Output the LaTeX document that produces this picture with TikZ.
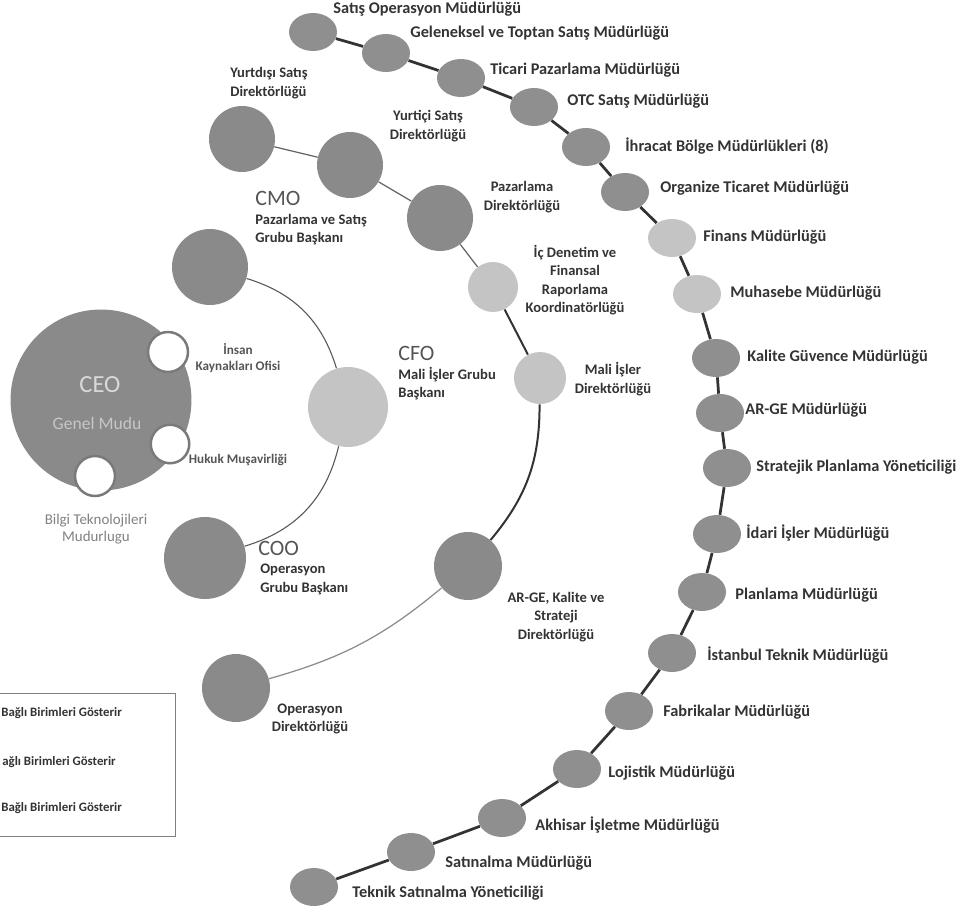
\documentclass[tikz,border=0pt]{standalone}
\usepackage{fontspec}
\setmainfont{Carlito}
\usetikzlibrary{shapes.geometric}
\definecolor{unitgray}{HTML}{8F8F8F}
\definecolor{headgray}{HTML}{8A8A8A}
\definecolor{palegray}{HTML}{C4C4C4}
\definecolor{ringgray}{HTML}{7A7A7A}
\definecolor{labeltext}{HTML}{333333}
\definecolor{softtext}{HTML}{555555}
\newcommand{\orgunitfont}{\fontsize{9.3}{11}\selectfont\bfseries}
\newcommand{\orgdirfont}{\fontsize{8.3}{10.4}\selectfont\bfseries}
\newcommand{\orgheadfont}{\fontsize{12.5}{14}\selectfont}
\newcommand{\orgkeyfont}{\fontsize{7.3}{9}\selectfont\bfseries}
\begin{document}
\begin{tikzpicture}[x=0.02cm, y=-0.02cm,
	unit/.style={ellipse, fill=unitgray, inner sep=0pt, minimum width=0.96cm, minimum height=0.76cm},
	paleunit/.style={unit, fill=palegray},
	dirball/.style={circle, fill=headgray, inner sep=0pt, minimum size=#1},
	paleball/.style={circle, fill=palegray, inner sep=0pt, minimum size=#1},
	hole/.style={circle, fill=white, draw=ringgray, line width=0.05cm, inner sep=0pt, minimum size=#1},
	unitlabel/.style={font=\orgunitfont, text=labeltext, inner sep=0pt, anchor=west},
	dirlabel/.style={font=\orgdirfont, text=labeltext, inner sep=0pt, align=center},
	headlabel/.style={font=\orgheadfont, text=softtext, inner sep=0pt, anchor=west},
	keylabel/.style={font=\orgkeyfont, text=labeltext, inner sep=0pt, anchor=west},
	chainline/.style={draw=black!80, line width=0.055cm},
	thinline/.style={draw=black!60, line width=0.025cm},
	arcline/.style={draw=black!65, line width=0.022cm}]
	\useasboundingbox (0,0) rectangle (962,912);
	\clip (0,0) rectangle (962,912);
	\node[circle, fill=headgray, inner sep=0pt, minimum size=3.62cm] (ceo) at (101,400) {};
	\node[hole=0.8cm] (ikf) at (168,352) {};
	\node[hole=0.77cm] (hkm) at (170,444) {};
	\node[hole=0.8cm] (btm) at (95,476) {};
	\node[text=black!15, font=\fontsize{14}{16}\selectfont, inner sep=0pt] (ceo-t) at (100,385) {CEO};
	\node[text=black!22, font=\fontsize{10}{12}\selectfont, inner sep=0pt] (ceo-s) at (97,423) {Genel Mudu};
	\node[dirlabel, text=softtext, font=\fontsize{7.5}{9.5}\selectfont\bfseries] (ikf-l) at (238,358) {İnsan\\Kaynakları Ofisi};
	\node[dirlabel, text=softtext, font=\fontsize{7.5}{9.5}\selectfont\bfseries] (hkm-l) at (238,460) {Hukuk Muşavirliği};
	\node[dirlabel, text=black!50, font=\fontsize{8.5}{10}\selectfont] (btm-l) at (96,529) {Bilgi Teknolojileri\\Mudurlugu};
	\node[dirball=1.52cm] (cmo) at (210,267) {};
	\node[paleball=1.6cm] (cfo) at (348,407) {};
	\node[dirball=1.64cm] (coo) at (205,558) {};
	\node[headlabel] (cmo-t) at (255,198) {CMO};
	\node[dirlabel, anchor=north west, align=left] (cmo-l) at (255,214) {Pazarlama ve Satış\\Grubu Başkanı};
	\node[headlabel] (cfo-t) at (398,353) {CFO};
	\node[dirlabel, anchor=north west, align=left] (cfo-l) at (398,367) {Mali İşler Grubu\\Başkanı};
	\node[headlabel] (coo-t) at (258,548) {COO};
	\node[dirlabel, anchor=north west, align=left] (coo-l) at (260,564) {Operasyon\\Grubu Başkanı};
	\draw[arcline] (cmo) to[bend left=28] (cfo);
	\draw[arcline] (cfo) to[bend left=30] (coo);
	\node[dirball=1.32cm] (yds) at (242,139) {};
	\node[dirball=1.32cm] (yis) at (350,165) {};
	\node[dirball=1.32cm] (pzd) at (440,218) {};
	\node[paleball=1.0cm] (icd) at (493,287) {};
	\node[paleball=1.04cm] (mid) at (540,378) {};
	\node[dirball=1.36cm] (akd) at (468,566) {};
	\node[dirball=1.36cm] (opd) at (236,688) {};
	\node[dirlabel, anchor=west, align=left] (yds-l) at (230,83) {Yurtdışı Satış\\Direktörlüğü};
	\node[dirlabel] (yis-l) at (428,126) {Yurtiçi Satış\\Direktörlüğü};
	\node[dirlabel] (pzd-l) at (522,197) {Pazarlama\\Direktörlüğü};
	\node[dirlabel] (icd-l) at (575,280) {İç Denetim ve\\Finansal\\Raporlama\\Koordinatörlüğü};
	\node[dirlabel] (mid-l) at (613,379) {Mali İşler\\Direktörlüğü};
	\node[dirlabel] (akd-l) at (556,617) {AR-GE, Kalite ve\\Strateji\\Direktörlüğü};
	\node[dirlabel] (opd-l) at (310,719) {Operasyon\\Direktörlüğü};
	\draw[thinline] (yds) -- (yis) -- (pzd) -- (icd);
	\draw[chainline, line width=0.04cm] (icd) -- (mid);
	\draw[chainline, line width=0.04cm] (mid) to[bend left=20] (akd);
	\draw[thinline, draw=black!45] (akd) to[bend left=12] (opd);
	\node[unit] (sop) at (313,32) {};
	\node[unit] (gts) at (386,53) {};
	\node[unit] (tpm) at (461,78) {};
	\node[unit] (otc) at (534,107) {};
	\node[unit] (ibm) at (586,147) {};
	\node[unit] (otm) at (625,192) {};
	\node[paleunit] (fin) at (672,238) {};
	\node[paleunit] (muh) at (697,294) {};
	\node[unit] (kgm) at (716,358) {};
	\node[unit] (arg) at (720,413) {};
	\node[unit] (spy) at (727,468) {};
	\node[unit] (iim) at (717,534) {};
	\node[unit] (plm) at (702,592) {};
	\node[unit] (itm) at (672,653) {};
	\node[unit] (fab) at (629,711) {};
	\node[unit] (loj) at (577,769) {};
	\node[unit] (akh) at (502,818) {};
	\node[unit] (sat) at (411,852) {};
	\node[unit] (tsy) at (314,887) {};
	\draw[chainline] (sop) -- (gts) -- (tpm) -- (otc) -- (ibm) -- (otm) -- (fin) -- (muh) -- (kgm) -- (arg);
	\draw[chainline] (arg) -- (spy) -- (iim) -- (plm) -- (itm) -- (fab) -- (loj) -- (akh) -- (sat) -- (tsy);
	\node[unitlabel] (sop-l) at (333,9) {Satış Operasyon Müdürlüğü};
	\node[unitlabel] (gts-l) at (410,33) {Geleneksel ve Toptan Satış Müdürlüğü};
	\node[unitlabel] (tpm-l) at (490,70) {Ticari Pazarlama Müdürlüğü};
	\node[unitlabel] (otc-l) at (567,101) {OTC Satış Müdürlüğü};
	\node[unitlabel] (ibm-l) at (625,146) {İhracat Bölge Müdürlükleri (8)};
	\node[unitlabel] (otm-l) at (660,188) {Organize Ticaret Müdürlüğü};
	\node[unitlabel] (fin-l) at (703,237) {Finans Müdürlüğü};
	\node[unitlabel] (muh-l) at (730,293) {Muhasebe Müdürlüğü};
	\node[unitlabel] (kgm-l) at (747,357) {Kalite Güvence Müdürlüğü};
	\node[unitlabel] (arg-l) at (745,410) {AR-GE Müdürlüğü};
	\node[unitlabel] (spy-l) at (756,467) {Stratejik Planlama Yöneticiliği};
	\node[unitlabel] (iim-l) at (746,533) {İdari İşler Müdürlüğü};
	\node[unitlabel] (plm-l) at (735,595) {Planlama Müdürlüğü};
	\node[unitlabel] (itm-l) at (707,655) {İstanbul Teknik Müdürlüğü};
	\node[unitlabel] (fab-l) at (663,712) {Fabrikalar Müdürlüğü};
	\node[unitlabel] (loj-l) at (608,773) {Lojistik Müdürlüğü};
	\node[unitlabel] (akh-l) at (535,825) {Akhisar İşletme Müdürlüğü};
	\node[unitlabel] (sat-l) at (445,863) {Satınalma Müdürlüğü};
	\node[unitlabel] (tsy-l) at (352,893) {Teknik Satınalma Yöneticiliği};
	\draw[draw=black!50, line width=0.02cm] (-5,693) rectangle (175,836);
	\node[keylabel] (key1) at (1,713) {Bağlı Birimleri Gösterir};
	\node[keylabel] (key2) at (2,762) {ağlı Birimleri Gösterir};
	\node[keylabel] (key3) at (1,808) {Bağlı Birimleri Gösterir};
\end{tikzpicture}
\end{document}
